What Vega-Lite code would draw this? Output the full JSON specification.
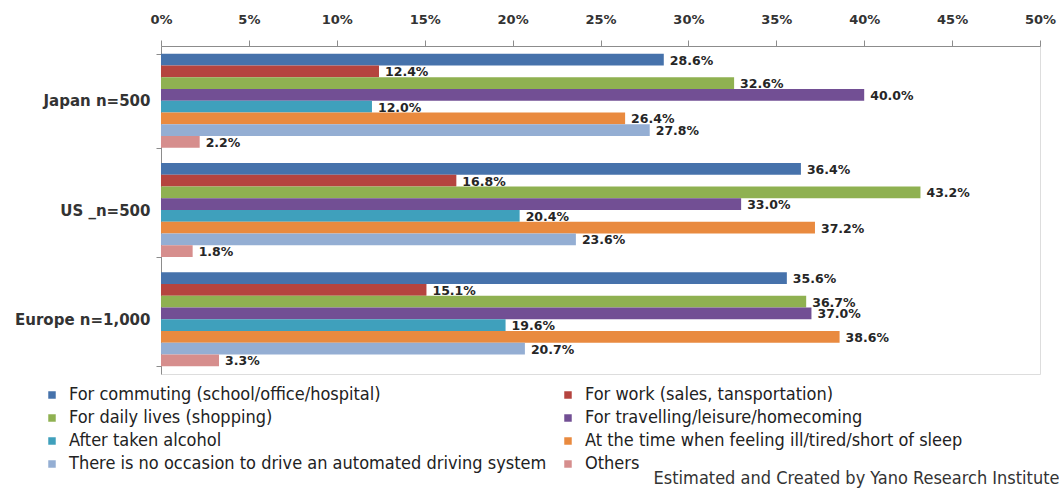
{
  "$schema": "https://vega.github.io/schema/vega-lite/v6.json",
  "width": 879,
  "height": 328,
  "autosize": {"type": "none"},
  "padding": {"left": 161, "top": 46, "right": 19, "bottom": 114},
  "background": "white",
  "title": {
    "text": "Estimated and Created by Yano Research Institute",
    "orient": "bottom",
    "anchor": "end",
    "offset": -3,
    "dx": 4,
    "font": "DejaVu Sans Condensed",
    "fontSize": 18,
    "fontWeight": "normal",
    "color": "#333333"
  },
  "data": {
    "values": [
      {"region": "Japan n=500", "purpose": "For commuting (school/office/hospital)", "pct": 0.286},
      {"region": "Japan n=500", "purpose": "For work (sales, tansportation)", "pct": 0.124},
      {"region": "Japan n=500", "purpose": "For daily lives (shopping)", "pct": 0.326},
      {"region": "Japan n=500", "purpose": "For travelling/leisure/homecoming", "pct": 0.400},
      {"region": "Japan n=500", "purpose": "After taken alcohol", "pct": 0.120},
      {"region": "Japan n=500", "purpose": "At the time when feeling ill/tired/short of sleep", "pct": 0.264},
      {"region": "Japan n=500", "purpose": "There is no occasion to drive an automated driving system", "pct": 0.278},
      {"region": "Japan n=500", "purpose": "Others", "pct": 0.022},
      {"region": "US _n=500", "purpose": "For commuting (school/office/hospital)", "pct": 0.364},
      {"region": "US _n=500", "purpose": "For work (sales, tansportation)", "pct": 0.168},
      {"region": "US _n=500", "purpose": "For daily lives (shopping)", "pct": 0.432},
      {"region": "US _n=500", "purpose": "For travelling/leisure/homecoming", "pct": 0.330},
      {"region": "US _n=500", "purpose": "After taken alcohol", "pct": 0.204},
      {"region": "US _n=500", "purpose": "At the time when feeling ill/tired/short of sleep", "pct": 0.372},
      {"region": "US _n=500", "purpose": "There is no occasion to drive an automated driving system", "pct": 0.236},
      {"region": "US _n=500", "purpose": "Others", "pct": 0.018},
      {"region": "Europe n=1,000", "purpose": "For commuting (school/office/hospital)", "pct": 0.356},
      {"region": "Europe n=1,000", "purpose": "For work (sales, tansportation)", "pct": 0.151},
      {"region": "Europe n=1,000", "purpose": "For daily lives (shopping)", "pct": 0.367},
      {"region": "Europe n=1,000", "purpose": "For travelling/leisure/homecoming", "pct": 0.370},
      {"region": "Europe n=1,000", "purpose": "After taken alcohol", "pct": 0.196},
      {"region": "Europe n=1,000", "purpose": "At the time when feeling ill/tired/short of sleep", "pct": 0.386},
      {"region": "Europe n=1,000", "purpose": "There is no occasion to drive an automated driving system", "pct": 0.207},
      {"region": "Europe n=1,000", "purpose": "Others", "pct": 0.033}
    ]
  },
  "encoding": {
    "y": {
      "field": "region",
      "type": "nominal",
      "sort": ["Japan n=500", "US _n=500", "Europe n=1,000"],
      "scale": {"paddingInner": 0.14, "paddingOuter": 0.07},
      "axis": {
        "title": null,
        "labelFont": "DejaVu Sans",
        "labelFontSize": 15,
        "labelFontWeight": "bold",
        "labelColor": "#333333",
        "labelPadding": 6,
        "tickBand": "extent",
        "tickSize": 5,
        "tickColor": "#8c8c8c",
        "domainColor": "#8c8c8c"
      }
    },
    "yOffset": {
      "field": "purpose",
      "type": "nominal",
      "sort": [
        "For commuting (school/office/hospital)",
        "For work (sales, tansportation)",
        "For daily lives (shopping)",
        "For travelling/leisure/homecoming",
        "After taken alcohol",
        "At the time when feeling ill/tired/short of sleep",
        "There is no occasion to drive an automated driving system",
        "Others"
      ],
      "scale": {"paddingInner": 0, "paddingOuter": 0}
    },
    "x": {
      "field": "pct",
      "type": "quantitative",
      "scale": {"domain": [0, 0.5], "nice": false},
      "axis": {
        "orient": "top",
        "title": null,
        "format": "%",
        "values": [0, 0.05, 0.1, 0.15, 0.2, 0.25, 0.3, 0.35, 0.4, 0.45, 0.5],
        "grid": false,
        "labelFont": "DejaVu Sans",
        "labelFontSize": 13,
        "labelFontWeight": "bold",
        "labelColor": "#333333",
        "labelPadding": 14,
        "labelFlush": false,
        "tickSize": 6,
        "tickColor": "#8c8c8c",
        "domainColor": "#8c8c8c"
      }
    }
  },
  "layer": [
    {
      "mark": {"type": "bar"},
      "encoding": {
        "color": {
          "field": "purpose",
          "type": "nominal",
          "scale": {
            "domain": [
              "For commuting (school/office/hospital)",
              "For work (sales, tansportation)",
              "For daily lives (shopping)",
              "For travelling/leisure/homecoming",
              "After taken alcohol",
              "At the time when feeling ill/tired/short of sleep",
              "There is no occasion to drive an automated driving system",
              "Others"
            ],
            "range": ["#4672ab", "#b5443f", "#8fb151", "#724f94", "#3fa0bc", "#e98a3f", "#94aed3", "#d68e8d"]
          },
          "legend": {
            "title": null,
            "orient": "none",
            "direction": "horizontal",
            "legendX": -118,
            "legendY": 340,
            "columns": 2,
            "columnPadding": 12,
            "rowPadding": 5,
            "symbolType": "square",
            "symbolSize": 56,
            "symbolStrokeWidth": 0,
            "labelFont": "DejaVu Sans Condensed",
            "labelFontSize": 18,
            "labelColor": "#222222",
            "labelOffset": 8,
            "labelLimit": 700
          }
        }
      }
    },
    {
      "mark": {
        "type": "text",
        "align": "left",
        "baseline": "middle",
        "dx": 6,
        "dy": 1,
        "font": "DejaVu Sans",
        "fontSize": 12.5,
        "fontWeight": "bold",
        "color": "#262626"
      },
      "encoding": {
        "text": {"field": "pct", "type": "quantitative", "format": ".1%"}
      }
    }
  ]
}
